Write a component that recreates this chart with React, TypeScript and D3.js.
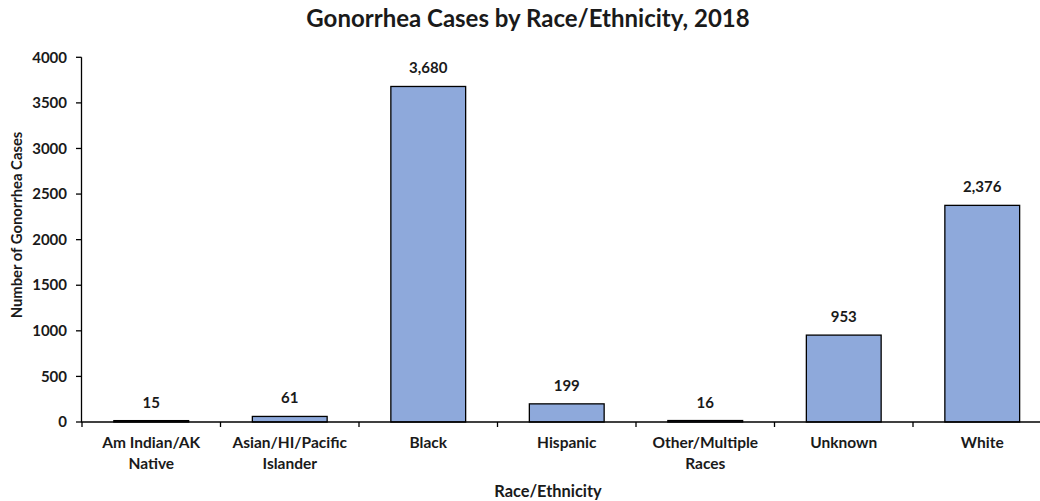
import React from "react";
import * as d3 from "d3";

const categories = [
  ["Am Indian/AK", "Native"],
  ["Asian/HI/Pacific", "Islander"],
  ["Black"],
  ["Hispanic"],
  ["Other/Multiple", "Races"],
  ["Unknown"],
  ["White"],
];
const cases = [15, 61, 3680, 199, 16, 953, 2376];
const yTicks = [0, 500, 1000, 1500, 2000, 2500, 3000, 3500, 4000];

const W = 1040;
const H = 501;
const FONT = "Lato, 'Open Sans', sans-serif";
const TEXT = "#1a1a1a";

export default function App() {
  const left = 82;
  const band = 138.5;
  const keys = categories.map((_, i) => String(i));
  const x = d3
    .scaleBand<string>()
    .domain(keys)
    .range([left, left + band * keys.length])
    .paddingInner(0.46)
    .paddingOuter(0.23);
  const y = d3.scaleLinear().domain([0, 4000]).range([422, 57.3]);
  const fmt = d3.format(",");

  const bandStarts = keys.map((_, i) => left + i * band);
  const cx = (i: number) => (x(String(i)) as number) + x.bandwidth() / 2;

  return (
    <svg
      width={W}
      height={H}
      style={{ position: "absolute", left: 0, top: 0, background: "#fff" }}
      fontFamily={FONT}
    >
      <text x={528} y={27} textAnchor="middle" fontSize={24} fontWeight={700} fill={TEXT}>
        Gonorrhea Cases by Race/Ethnicity, 2018
      </text>

      {/* y axis */}
      <line x1={81.5} x2={81.5} y1={y(4000)} y2={y(0)} stroke="#000" strokeWidth={1.3} />
      {yTicks.map((t) => (
        <g key={t}>
          <line x1={76} x2={81.5} y1={y(t)} y2={y(t)} stroke="#000" strokeWidth={1.3} />
          <text
            x={67}
            y={y(t)}
            dy="0.35em"
            textAnchor="end"
            fontSize={15}
            fontWeight={700}
            fill={TEXT}
          >
            {t}
          </text>
        </g>
      ))}
      <text
        transform={`translate(22,225) rotate(-90)`}
        textAnchor="middle"
        fontSize={14.8}
        fontWeight={700}
        fill={TEXT}
      >
        Number of Gonorrhea Cases
      </text>

      {/* bars */}
      {cases.map((v, i) => (
        <g key={i}>
          <rect
            x={x(String(i))}
            y={y(v)}
            width={x.bandwidth()}
            height={y(0) - y(v)}
            fill="#8EA9DB"
            stroke="#000"
            strokeWidth={1.3}
          />
          <text
            x={cx(i)}
            y={y(v) - 13}
            textAnchor="middle"
            fontSize={15}
            fontWeight={700}
            fill={TEXT}
          >
            {fmt(v)}
          </text>
        </g>
      ))}

      {/* x axis */}
      <line x1={81} x2={W} y1={y(0)} y2={y(0)} stroke="#000" strokeWidth={1.3} />
      {bandStarts.map((bx, i) => (
        <line key={i} x1={bx} x2={bx} y1={y(0)} y2={y(0) + 5} stroke="#000" strokeWidth={1.3} />
      ))}
      {categories.map((lines, i) => (
        <text
          key={i}
          x={cx(i)}
          y={448}
          textAnchor="middle"
          fontSize={15.5}
          fontWeight={700}
          fill={TEXT}
        >
          {lines.map((l, j) => (
            <tspan key={j} x={cx(i)} dy={j === 0 ? 0 : 20.5}>
              {l}
            </tspan>
          ))}
        </text>
      ))}
      <text x={548} y={497} textAnchor="middle" fontSize={16.4} fontWeight={700} fill={TEXT}>
        Race/Ethnicity
      </text>
    </svg>
  );
}
